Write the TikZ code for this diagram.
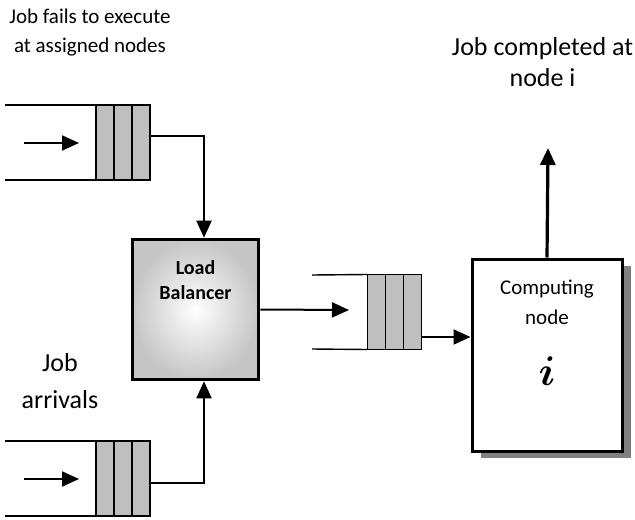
\documentclass[tikz,border=0pt]{standalone}
\usepackage{fontspec}
\setmainfont{Carlito}
\usetikzlibrary{arrows.meta,positioning,shadows,calc}

\begin{document}
\begin{tikzpicture}[
    x=0.5pt, y=-0.5pt,
    cell/.style={draw, line width=0.7pt, fill=gray!50, minimum width=9pt, minimum height=37.5pt, inner sep=0, outer sep=0},
    wire/.style={draw, line width=0.7pt},
    flow/.style={draw, line width=1pt, -{Triangle[length=8.5pt, width=7.5pt]}},
    bigflow/.style={draw, line width=1.6pt, -{Triangle[length=8.5pt, width=7.5pt]}},
    caption/.style={align=center, inner sep=0},
    balancer/.style={draw, line width=1.8pt, minimum width=63pt, minimum height=70pt, inner sep=0,
        shading=radial, outer color=gray!45, inner color=white},
    compnode/.style={draw, line width=1.5pt, fill=white, minimum width=75pt, minimum height=96pt, inner sep=0,
        drop shadow={shadow xshift=4.5pt, shadow yshift=-3.5pt, fill=gray, opacity=1}}]
\useasboundingbox (0,0) rectangle (635,519);

% queues (three cells each)
\foreach \q/\x/\y in {QA/105/142.5, QB/105/478.5, QC/376.5/312} {
    \node[cell] (\q-1) at (\x,\y) {};
    \node[cell, right=0pt of \q-1] (\q-2) {};
    \node[cell, right=0pt of \q-2] (\q-3) {};
}

% queue walls and incoming jobs
\coordinate (QA-top) at (5,105);
\coordinate (QA-bot) at (5,180);
\coordinate (QA-in) at (24,143);
\coordinate (QA-tip) at (79,143);
\coordinate (QB-top) at (5,441);
\coordinate (QB-bot) at (5,516);
\coordinate (QB-in) at (24,479);
\coordinate (QB-tip) at (79,479);
\coordinate (QC-top) at (312,275);
\coordinate (QC-bot) at (312,349);
\coordinate (QC-tip) at (349,310);
\foreach \q in {QA, QB, QC} {
    \path[wire] (\q-top) -- (\q-1.north west);
    \path[wire] (\q-bot) -- (\q-1.south west);
}
\path[flow] (QA-in) -- (QA-tip);
\path[flow] (QB-in) -- (QB-tip);

\node[balancer] (LB) at (195.5,309.5) {};
\node[caption, font=\bfseries\fontsize{10}{12.5}\selectfont, below=11pt of LB.north] (LBtext) {Load\\Balancer};

\node[compnode] (CN) at (547,355) {};
\node[caption, font=\fontsize{10.5}{15}\selectfont, below=11pt of CN.north] (CNtext) {Computing\\node};
\node[caption, font=\fontsize{22}{22}\selectfont\boldmath] (CNid) at (547,371) {$i$};

% connectors
\path[flow] ([yshift=3.25pt]QA-3.east) -| ([xshift=4.25pt]LB.north);
\path[flow] ([yshift=-2.25pt]QB-3.east) -| ([xshift=4.25pt]LB.south);
\path[flow] (LB.east) -- (QC-tip);
\path[flow] ([yshift=-12.5pt]QC-3.east) -- ([yshift=-12.5pt]QC-3.east -| CN.west);
\coordinate (done) at (548,148);
\path[bigflow] (CN.north) -- (done);

% captions
\node[caption, font=\fontsize{10.5}{14.5}\selectfont] (failcap) at (90,32.5) {Job fails to execute\\at assigned nodes};
\node[caption, font=\fontsize{13}{15.5}\selectfont] (donecap) at (542.5,62.5) {Job completed at\\node i};
\node[caption, font=\fontsize{13}{18.5}\selectfont] (arrcap) at (60,381.5) {Job\\arrivals};

\end{tikzpicture}
\end{document}
